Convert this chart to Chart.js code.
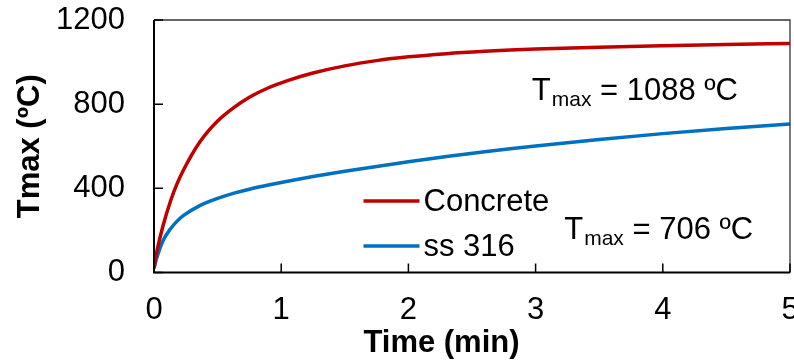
<!DOCTYPE html>
<html>
<head>
<meta charset="utf-8">
<script src="https://cdn.jsdelivr.net/npm/chart.js@4/dist/chart.umd.min.js"></script>
<style>
  html, body { margin: 0; padding: 0; background: #fff; }
  #wrap { width: 794px; height: 361px; position: relative; }
</style>
</head>
<body>
<div id="wrap"><canvas id="c" width="794" height="361"></canvas></div>
<script>
// Time axis (min)
const timeMin = [0, 0.02, 0.07, 0.13, 0.18, 0.23, 0.36, 0.5, 0.63, 0.75, 0.9, 1.05, 1.25, 1.5, 1.75, 2.0, 2.3, 2.6, 2.8, 3.0, 3.5, 4.0, 4.5, 5.0];
// Maximum temperature (ºC) for each material
const concreteT = [20, 92, 220, 340, 420, 485, 620, 720, 785, 833, 878, 912, 948, 982, 1007, 1025, 1040, 1051, 1057, 1062, 1071, 1078, 1084, 1088];
const ss316T    = [20, 66, 150, 208, 243, 270, 318, 352, 377, 396, 416, 434, 456, 481, 504, 526, 551, 574, 588, 601, 632, 660, 684, 706];
const seriesNames = ['Concrete', 'ss 316'];
const seriesColors = ['#C00000', '#0070C0'];
const yTicks = [0, 400, 800, 1200];
const xTicks = [0, 1, 2, 3, 4, 5];
const xTitle = 'Time (min)';
const yTitle = 'Tmax (ºC)';

const FONT = "'Liberation Sans', Arial, sans-serif";

const toPoints = (xs, ys) => xs.map((x, i) => ({ x: x, y: ys[i] }));

// Inward tick marks, frame, x title, in-plot legend and Tmax annotations
const decorations = {
  id: 'decorations',
  afterDatasetsDraw(chart) {
    const { ctx, chartArea: a, scales: { x, y } } = chart;
    ctx.save();
    // frame: thin top/right, heavier left/bottom axes
    ctx.strokeStyle = '#333';
    ctx.lineWidth = 1.3;
    ctx.beginPath();
    ctx.moveTo(a.left, a.top); ctx.lineTo(a.right, a.top); ctx.lineTo(a.right, a.bottom);
    ctx.stroke();
    ctx.strokeStyle = '#000';
    ctx.lineWidth = 2;
    ctx.beginPath();
    ctx.moveTo(a.left, a.top); ctx.lineTo(a.left, a.bottom); ctx.lineTo(a.right, a.bottom);
    ctx.stroke();
    // tick marks pointing into the plot
    ctx.lineWidth = 1.5;
    ctx.beginPath();
    yTicks.forEach(v => {
      const py = y.getPixelForValue(v);
      ctx.moveTo(a.left, py); ctx.lineTo(a.left + 9, py);
    });
    xTicks.forEach(v => {
      const px = x.getPixelForValue(v);
      ctx.moveTo(px, a.bottom); ctx.lineTo(px, a.bottom - 9);
    });
    ctx.stroke();

    // x axis title, set a little left of the axis centre
    ctx.fillStyle = '#000';
    ctx.font = 'bold 31px ' + FONT;
    ctx.textAlign = 'center';
    ctx.textBaseline = 'alphabetic';
    ctx.fillText(xTitle, x.getPixelForValue(2.26), a.bottom + 79.5);

    // legend inside the plot
    const legendRows = [340, 126];
    const lx0 = x.getPixelForValue(1.647);
    ctx.textAlign = 'left';
    seriesNames.forEach((name, i) => {
      const ly = y.getPixelForValue(legendRows[i]);
      ctx.strokeStyle = seriesColors[i];
      ctx.lineWidth = 3.5;
      ctx.beginPath();
      ctx.moveTo(lx0, ly); ctx.lineTo(lx0 + 56, ly);
      ctx.stroke();
      ctx.fillStyle = '#000';
      ctx.font = '31px ' + FONT;
      ctx.fillText(name, lx0 + 60, ly + 10);
    });

    // Tmax annotations
    const notes = [
      { t: 2.97, v: 820, value: concreteT[concreteT.length - 1] },
      { t: 3.225, v: 157, value: ss316T[ss316T.length - 1] }
    ];
    notes.forEach(n => {
      let px = x.getPixelForValue(n.t);
      const py = y.getPixelForValue(n.v);
      ctx.fillStyle = '#000';
      ctx.font = '31px ' + FONT;
      ctx.fillText('T', px, py);
      px += ctx.measureText('T').width + 1;
      ctx.font = '21px ' + FONT;
      ctx.fillText('max', px, py + 6);
      px += ctx.measureText('max').width;
      ctx.font = '31px ' + FONT;
      ctx.fillText(' = ' + n.value + ' ºC', px, py);
    });
    ctx.restore();
  }
};

new Chart(document.getElementById('c'), {
  type: 'line',
  data: {
    datasets: [
      { label: seriesNames[0], data: toPoints(timeMin, concreteT), borderColor: seriesColors[0], borderWidth: 3.5, pointRadius: 0, cubicInterpolationMode: 'monotone', fill: false },
      { label: seriesNames[1], data: toPoints(timeMin, ss316T), borderColor: seriesColors[1], borderWidth: 3.5, pointRadius: 0, cubicInterpolationMode: 'monotone', fill: false }
    ]
  },
  options: {
    responsive: false,
    animation: false,
    devicePixelRatio: 1,
    layout: { padding: { top: 20, right: 4, left: 0, bottom: 0 } },
    plugins: { legend: { display: false }, tooltip: { enabled: false } },
    scales: {
      x: {
        type: 'linear', min: 0, max: 5,
        afterBuildTicks: s => { s.ticks = xTicks.map(v => ({ value: v })); },
        afterFit: s => { s.height = 88.5; s.paddingLeft = 0; s.paddingRight = 0; },
        grid: { display: false, drawTicks: false },
        border: { display: false },
        ticks: { color: '#000', padding: 19, maxRotation: 0, autoSkip: false, callback: v => String(v), font: { family: FONT, size: 31 } },
        title: { display: false }
      },
      y: {
        type: 'linear', min: 0, max: 1200,
        afterBuildTicks: s => { s.ticks = yTicks.map(v => ({ value: v })); },
        afterFit: s => { s.width = 154; s.paddingTop = 0; s.paddingBottom = 0; },
        grid: { display: false, drawTicks: false },
        border: { display: false },
        ticks: { color: '#000', padding: 29, callback: v => String(v), font: { family: FONT, size: 31 } },
        title: { display: true, text: yTitle, color: '#000', padding: { top: 12, bottom: 0 }, font: { family: FONT, size: 31, weight: 'bold' } }
      }
    }
  },
  plugins: [decorations]
});
</script>
</body>
</html>
